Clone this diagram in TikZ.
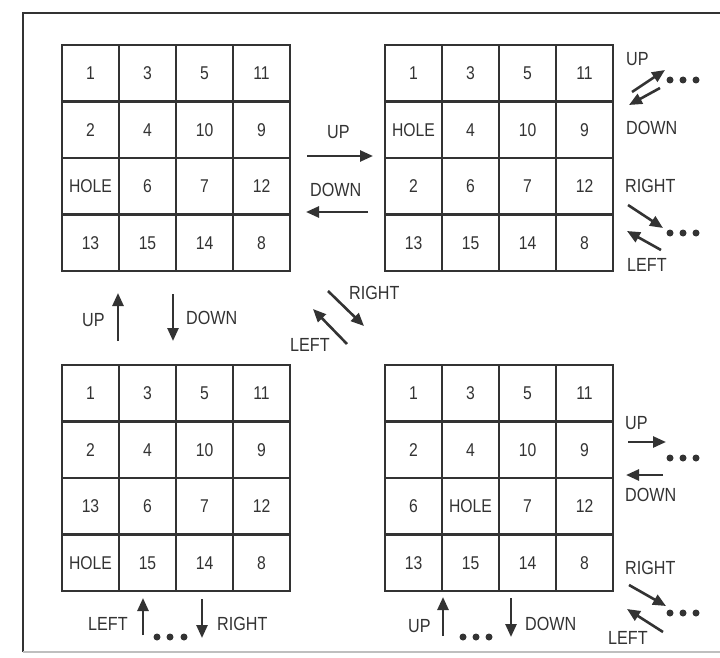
\documentclass[tikz,border=0pt]{standalone}
\usepackage{fontspec}
\setmainfont{Liberation Sans}[FakeStretch=0.85]
\usetikzlibrary{arrows.meta}
\definecolor{ink}{HTML}{333333}
\begin{document}
\begin{tikzpicture}[x=1pt, y=-1pt,
  every node/.style={font=\fontsize{18.5}{18.5}\selectfont, text=ink, inner sep=0pt},
  cell/.style={draw=ink, line width=2.2pt, minimum width=57pt, minimum height=56.5pt},
  lbl/.style={anchor=west, font=\fontsize{19}{19}\selectfont},
  move/.style={-{Triangle[length=13pt, width=11pt]}, ink, line width=2.6pt},
  dot/.style={circle, fill=ink, minimum size=7pt},
]
  \useasboundingbox (0,0) rectangle (720,658);
  % Frame
  \draw[ink, line width=2.2pt] (23,652) -- (23,13) -- (720,13);
  \draw[black!25, line width=1.5pt] (23,652) -- (720,652);
  % Boards
  \foreach \v [count=\i from 0] in {1,3,5,11,2,4,10,9,HOLE,6,7,12,13,15,14,8} {
    \pgfmathtruncatemacro\c{mod(\i,4)}
    \pgfmathtruncatemacro\r{int(\i/4)}
    \node[cell] (tl-\i) at ({62+57*\c+28.5},{45+56.5*\r+28.25}) {\v};
  }
  \foreach \v [count=\i from 0] in {1,3,5,11,HOLE,4,10,9,2,6,7,12,13,15,14,8} {
    \pgfmathtruncatemacro\c{mod(\i,4)}
    \pgfmathtruncatemacro\r{int(\i/4)}
    \node[cell] (tr-\i) at ({385+57*\c+28.5},{45+56.5*\r+28.25}) {\v};
  }
  \foreach \v [count=\i from 0] in {1,3,5,11,2,4,10,9,13,6,7,12,HOLE,15,14,8} {
    \pgfmathtruncatemacro\c{mod(\i,4)}
    \pgfmathtruncatemacro\r{int(\i/4)}
    \node[cell] (bl-\i) at ({62+57*\c+28.5},{365+56.5*\r+28.25}) {\v};
  }
  \foreach \v [count=\i from 0] in {1,3,5,11,2,4,10,9,6,HOLE,7,12,13,15,14,8} {
    \pgfmathtruncatemacro\c{mod(\i,4)}
    \pgfmathtruncatemacro\r{int(\i/4)}
    \node[cell] (br-\i) at ({385+57*\c+28.5},{365+56.5*\r+28.25}) {\v};
  }
  % Top left <-> top right
  \node[lbl] (upA) at (327,132) {UP};
  \node[lbl] (downA) at (310,190) {DOWN};
  \coordinate (upA1) at (307,156); \coordinate (upA2) at (373,156);
  \coordinate (downA1) at (368,212); \coordinate (downA2) at (306,212);
  \draw[move] (upA1) -- (upA2);
  \draw[move] (downA1) -- (downA2);
  % Top left <-> bottom left
  \node[lbl] (upB) at (82,320) {UP};
  \node[lbl] (downB) at (186,318) {DOWN};
  \coordinate (upB1) at (118,341); \coordinate (upB2) at (118,293);
  \coordinate (downB1) at (173,294); \coordinate (downB2) at (173,341);
  \draw[move] (upB1) -- (upB2);
  \draw[move] (downB1) -- (downB2);
  % Top left <-> bottom right
  \node[lbl] (rightC) at (349,293) {RIGHT};
  \node[lbl] (leftC) at (290,345) {LEFT};
  \coordinate (rightC1) at (328,291); \coordinate (rightC2) at (364,326);
  \coordinate (leftC1) at (347,344); \coordinate (leftC2) at (313,309);
  \draw[move] (rightC1) -- (rightC2);
  \draw[move] (leftC1) -- (leftC2);
  % Top right, onwards
  \node[lbl] (upD) at (626,59) {UP};
  \node[lbl] (downD) at (626,128) {DOWN};
  \coordinate (upD1) at (632,92); \coordinate (upD2) at (665,70);
  \coordinate (downD1) at (660,88); \coordinate (downD2) at (629,105);
  \draw[move] (upD1) -- (upD2);
  \draw[move] (downD1) -- (downD2);
  \node[lbl] (rightD) at (625,186) {RIGHT};
  \node[lbl] (leftD) at (627,265) {LEFT};
  \coordinate (rightD1) at (628,205); \coordinate (rightD2) at (663,228);
  \coordinate (leftD1) at (661,250); \coordinate (leftD2) at (627,231);
  \draw[move] (rightD1) -- (rightD2);
  \draw[move] (leftD1) -- (leftD2);
  \foreach \x [count=\k] in {670,683,696} {
    \node[dot] (dotD\k) at (\x,80) {};
    \node[dot] (dotE\k) at (\x,233) {};
  }
  % Bottom left, onwards
  \node[lbl] (leftF) at (88,624) {LEFT};
  \node[lbl] (rightF) at (217,624) {RIGHT};
  \coordinate (leftF1) at (143,635); \coordinate (leftF2) at (143,598);
  \coordinate (rightF1) at (202,599); \coordinate (rightF2) at (202,638);
  \draw[move] (leftF1) -- (leftF2);
  \draw[move] (rightF1) -- (rightF2);
  % Bottom right, onwards
  \node[lbl] (upG) at (408,626) {UP};
  \node[lbl] (downG) at (525,624) {DOWN};
  \coordinate (upG1) at (443,636); \coordinate (upG2) at (443,597);
  \coordinate (downG1) at (511,598); \coordinate (downG2) at (511,637);
  \draw[move] (upG1) -- (upG2);
  \draw[move] (downG1) -- (downG2);
  \foreach \x [count=\k] in {157,170,184} {
    \node[dot] (dotF\k) at (\x,637) {};
  }
  \foreach \x [count=\k] in {463,476,489} {
    \node[dot] (dotG\k) at (\x,637) {};
  }
  \node[lbl] (upH) at (625,423) {UP};
  \node[lbl] (downH) at (625,495) {DOWN};
  \coordinate (upH1) at (628,442); \coordinate (upH2) at (666,442);
  \coordinate (downH1) at (663,475); \coordinate (downH2) at (626,475);
  \draw[move] (upH1) -- (upH2);
  \draw[move] (downH1) -- (downH2);
  \node[lbl] (rightH) at (625,568) {RIGHT};
  \node[lbl] (leftH) at (608,638) {LEFT};
  \coordinate (rightH1) at (629,585); \coordinate (rightH2) at (666,606);
  \coordinate (leftH1) at (663,632); \coordinate (leftH2) at (627,609);
  \draw[move] (rightH1) -- (rightH2);
  \draw[move] (leftH1) -- (leftH2);
  \foreach \x [count=\k] in {670,683,696} {
    \node[dot] (dotH\k) at (\x,458) {};
    \node[dot] (dotI\k) at (\x,613) {};
  }
\end{tikzpicture}
\end{document}
